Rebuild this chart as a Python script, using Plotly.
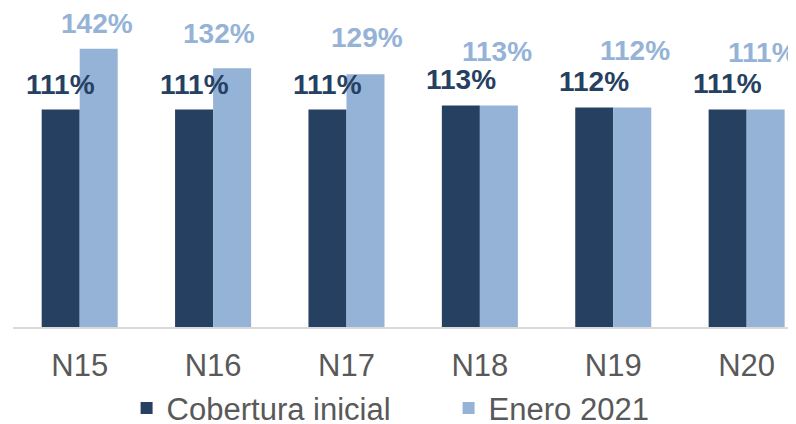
import plotly.graph_objects as go

categories = ["N15", "N16", "N17", "N18", "N19", "N20"]
cobertura_inicial = [111, 111, 111, 113, 112, 111]
enero_2021 = [142, 132, 129, 113, 112, 111]
series_names = ["Cobertura inicial", "Enero 2021"]

# label styling (pixel lifts of the value labels above bar tops, and x nudges)
lift_dark = [25, 25, 25, 26, 26, 26]
lift_light = [25, 35, 37, 54, 57, 57]
nudge_light = [-2, -13, 2, -2, 3, -3]

DARK = "#264061"
LIGHT = "#95B3D7"
FONT = "Liberation Sans, Arial, sans-serif"

fig = go.Figure()
fig.add_trace(go.Bar(x=categories, y=cobertura_inicial, name=series_names[0],
                     marker=dict(color=DARK, line=dict(width=0))))
fig.add_trace(go.Bar(x=categories, y=enero_2021, name=series_names[1],
                     marker=dict(color=LIGHT, line=dict(width=0))))

bargap = 0.43
half = (1 - bargap) / 4  # centre offset of each bar in category units

annotations = []
for i, c in enumerate(categories):
    annotations.append(dict(
        x=i - half, y=cobertura_inicial[i], xref="x", yref="y",
        text=f"{cobertura_inicial[i]}%", showarrow=False,
        yanchor="middle", xanchor="center", yshift=lift_dark[i],
        font=dict(family=FONT, size=28, color=DARK, weight="bold")))
    annotations.append(dict(
        x=i + half, y=enero_2021[i], xref="x", yref="y",
        text=f"{enero_2021[i]}%", showarrow=False,
        yanchor="middle", xanchor="center", yshift=lift_light[i],
        xshift=nudge_light[i],
        font=dict(family=FONT, size=28, color=LIGHT, weight="bold")))

fig.update_layout(
    width=788, height=416,
    margin=dict(l=5, r=0, t=0, b=96.5, autoexpand=False),
    paper_bgcolor="white", plot_bgcolor="white",
    barmode="group", bargap=bargap, bargroupgap=0,
    showlegend=True,
    legend=dict(orientation="h", x=0.1505, xanchor="left", xref="container",
                y=-0.255, yanchor="middle", yref="paper",
                font=dict(family=FONT, size=31, color="#595959"),
                entrywidth=277, entrywidthmode="pixels",
                itemsizing="constant", bgcolor="rgba(0,0,0,0)"),
    annotations=annotations,
    font=dict(family=FONT),
)
fig.update_xaxes(
    range=[-0.5, 5.37], showgrid=False, zeroline=False, automargin=False,
    showline=True, linecolor="#D9D9D9", linewidth=1.5,
    ticks="", ticklabelstandoff=10,
    tickfont=dict(family=FONT, size=31, color="#595959"),
)
fig.update_yaxes(range=[0, 162.8], visible=False, showgrid=False, zeroline=False,
                 automargin=False)

fig.write_html("out.html")
